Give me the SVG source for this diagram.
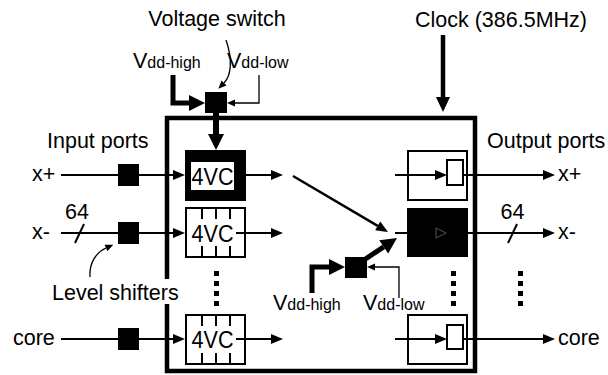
<svg xmlns="http://www.w3.org/2000/svg" width="608" height="375" viewBox="0 0 608 375">
<style>
text{font-family:"Liberation Sans",Arial,sans-serif;font-size:21.5px;fill:#000}
.sub{font-size:16px}
.vc{font-size:23px;text-anchor:middle}
.ln{stroke:#000;stroke-width:2;fill:none}
.thin{stroke:#000;stroke-width:1.3;fill:none}
.thick{stroke:#000;stroke-width:5;fill:none}
.box{stroke:#000;stroke-width:2;fill:#fff}
.obox{stroke:#000;stroke-width:2;fill:none}
.blk{fill:#000}
.mid{text-anchor:middle}
</style>
<defs>
<marker id="a" markerUnits="userSpaceOnUse" markerWidth="12" markerHeight="10" refX="0" refY="5" orient="auto" overflow="visible"><path d="M0,0 L12,5 L0,10 z" fill="#000"/></marker>
<marker id="b" markerUnits="userSpaceOnUse" markerWidth="16" markerHeight="16" refX="0" refY="8" orient="auto" overflow="visible"><path d="M0,0 L16,8 L0,16 z" fill="#000"/></marker>
<marker id="s" markerUnits="userSpaceOnUse" markerWidth="8" markerHeight="7" refX="0" refY="3.5" orient="auto" overflow="visible"><path d="M0,0 L8,3.5 L0,7 z" fill="#000"/></marker>
<marker id="c" markerUnits="userSpaceOnUse" markerWidth="15" markerHeight="14" refX="0" refY="7" orient="auto" overflow="visible"><path d="M0,0 L15,7 L0,14 z" fill="#000"/></marker>
</defs>
<rect width="608" height="375" fill="#fff"/>

<g id="chip">
<rect x="167" y="118" width="308" height="253" fill="none" stroke="#000" stroke-width="4.5"/>
</g>

<g id="connectors">
<line class="ln" x1="61" y1="175" x2="173" y2="175" marker-end="url(#a)"/>
<line class="ln" x1="61" y1="233" x2="173" y2="233" marker-end="url(#a)"/>
<line class="ln" x1="61" y1="339" x2="173" y2="339" marker-end="url(#a)"/>
<line class="ln" x1="246" y1="175" x2="271" y2="175" marker-end="url(#a)"/>
<line class="ln" x1="236" y1="233" x2="271" y2="233" marker-end="url(#a)"/>
<line class="ln" x1="236" y1="339" x2="271" y2="339" marker-end="url(#a)"/>
<line x1="293" y1="176" x2="377.7" y2="225.9" stroke="#000" stroke-width="2.5" marker-end="url(#a)"/>
<line class="ln" x1="395" y1="175" x2="435" y2="175" marker-end="url(#a)"/>
<line class="ln" x1="395" y1="233" x2="407" y2="233"/>
<line class="ln" x1="395" y1="339" x2="435" y2="339" marker-end="url(#a)"/>
<line class="ln" x1="463" y1="175" x2="543" y2="175" marker-end="url(#a)"/>
<line class="ln" x1="468" y1="233" x2="543" y2="233" marker-end="url(#a)"/>
<line class="ln" x1="463" y1="339" x2="543" y2="339" marker-end="url(#a)"/>
<line class="ln" x1="75" y1="243" x2="84" y2="224"/>
<line class="ln" x1="508" y1="243" x2="517" y2="224"/>
<line x1="443" y1="35" x2="443" y2="97" stroke="#000" stroke-width="4.5" marker-end="url(#c)"/>
<path class="thick" d="M173,75 V103 H189" marker-end="url(#b)"/>
<path class="thin" d="M259,75 V103 H235" marker-end="url(#s)"/>
<line x1="216" y1="113" x2="216" y2="134" stroke="#000" stroke-width="6" marker-end="url(#b)"/>
<path class="thin" d="M226,40 C233,60 231,76 224,83" marker-end="url(#s)"/>
<path class="thick" d="M312,293 V267 H329" marker-end="url(#b)"/>
<path class="thin" d="M399,298 V267 H375" marker-end="url(#s)"/>
<line x1="364" y1="260" x2="383.7" y2="246.8" stroke="#000" stroke-width="5" marker-end="url(#b)"/>
<path class="thin" d="M90,277 C89,262 97,252 106,248" marker-end="url(#s)"/>
</g>

<g id="level-shifters">
<rect class="blk" x="118" y="164" width="21" height="22"/>
<rect class="blk" x="118" y="222" width="21" height="22"/>
<rect class="blk" x="118" y="328" width="21" height="22"/>
</g>

<g id="voltage-switch-top">
<rect class="blk" x="205" y="92" width="22" height="21"/>
</g>
<g id="voltage-switch-bottom">
<rect class="blk" x="345" y="257" width="22" height="21"/>
</g>

<g id="vc-top">
<rect class="blk" x="185" y="150" width="61" height="51"/>
<rect x="191" y="162" width="43" height="28" fill="#fff"/>
<text class="vc" x="212.5" y="185" textLength="42" lengthAdjust="spacingAndGlyphs">4VC</text>
</g>
<g id="vc-mid">
<rect class="box" x="186" y="208" width="59" height="49"/>
<path class="ln" d="M202,208 v11 M216,208 v11 M230,208 v11 M202,257 v-11 M216,257 v-11 M230,257 v-11"/>
<line class="ln" x1="236" y1="233" x2="245" y2="233"/>
<text class="vc" x="212.5" y="242" textLength="42" lengthAdjust="spacingAndGlyphs">4VC</text>
</g>
<g id="vc-core">
<rect class="box" x="186" y="315" width="59" height="49"/>
<path class="ln" d="M202,315 v11 M216,315 v11 M230,315 v11 M202,364 v-11 M216,364 v-11 M230,364 v-11"/>
<line class="ln" x1="236" y1="339" x2="245" y2="339"/>
<text class="vc" x="212.5" y="348" textLength="42" lengthAdjust="spacingAndGlyphs">4VC</text>
</g>

<g id="ff-top">
<rect class="obox" x="408" y="151" width="59" height="49"/>
<rect class="box" x="447" y="160" width="16" height="25"/>
</g>
<g id="ff-mid">
<rect class="blk" x="407" y="208" width="61" height="49"/>
<path d="M436,228 L446,233 L436,238 z" fill="none" stroke="#555" stroke-width="1"/>
</g>
<g id="ff-core">
<rect class="obox" x="408" y="315" width="59" height="49"/>
<rect class="box" x="447" y="325" width="16" height="24"/>
</g>

<g id="dots">
<rect class="blk" x="214" y="271" width="5" height="5"/><rect class="blk" x="214" y="281" width="5" height="5"/><rect class="blk" x="214" y="291" width="5" height="5"/><rect class="blk" x="214" y="301" width="5" height="5"/>
<rect class="blk" x="451" y="271" width="5" height="5"/><rect class="blk" x="451" y="281" width="5" height="5"/><rect class="blk" x="451" y="291" width="5" height="5"/><rect class="blk" x="451" y="301" width="5" height="5"/>
<rect class="blk" x="518" y="271" width="5" height="5"/><rect class="blk" x="518" y="281" width="5" height="5"/><rect class="blk" x="518" y="291" width="5" height="5"/><rect class="blk" x="518" y="301" width="5" height="5"/>
</g>

<g id="labels">
<text class="mid" x="217" y="26">Voltage switch</text>
<text class="mid" x="501" y="27">Clock (386.5MHz)</text>
<text x="133" y="68">V<tspan class="sub">dd-high</tspan></text>
<text x="227" y="68">V<tspan class="sub">dd-low</tspan></text>
<text x="273" y="310">V<tspan class="sub">dd-high</tspan></text>
<text x="363" y="310">V<tspan class="sub">dd-low</tspan></text>
<text x="47" y="148">Input ports</text>
<text x="487" y="148">Output ports</text>
<text x="32" y="181">x+</text>
<text x="32" y="239">x-</text>
<text x="13" y="345">core</text>
<text x="558" y="181">x+</text>
<text x="558" y="239">x-</text>
<text x="558" y="345">core</text>
<text class="mid" x="77" y="219">64</text>
<text class="mid" x="512.5" y="219">64</text>
<rect x="150" y="279" width="30" height="25" fill="#fff"/>
<text x="52" y="300">Level shifters</text>
</g>
</svg>
